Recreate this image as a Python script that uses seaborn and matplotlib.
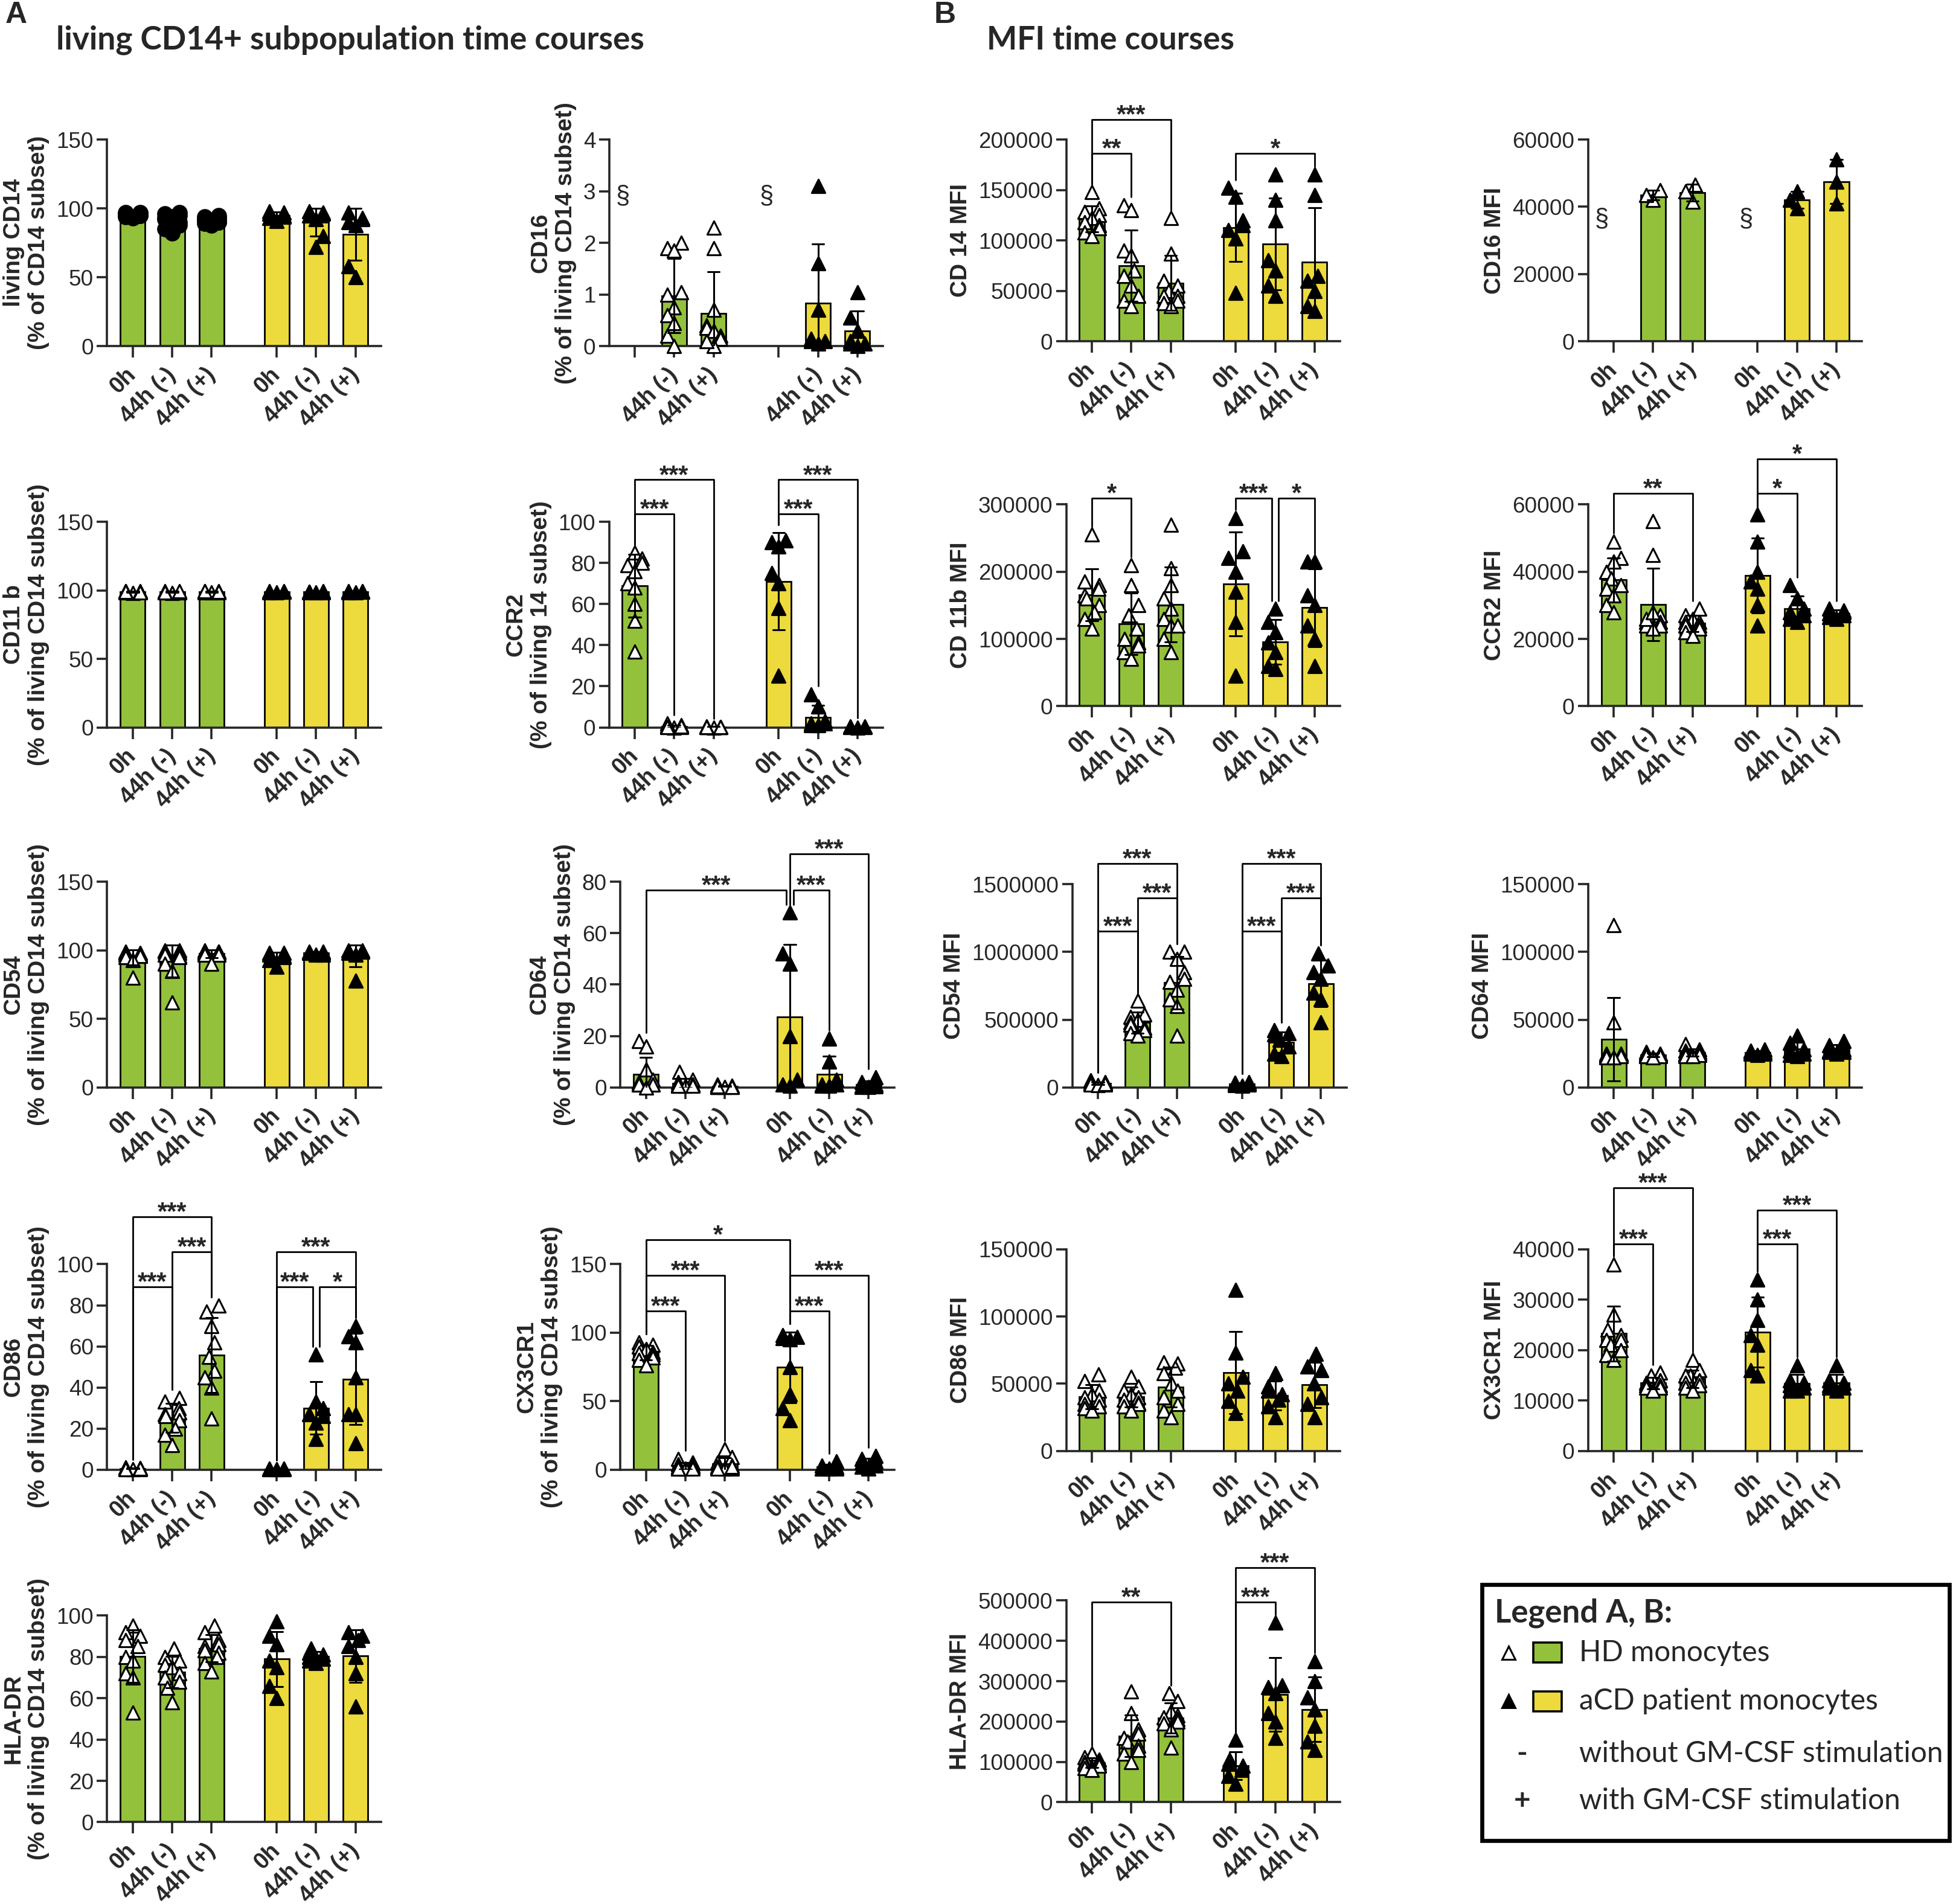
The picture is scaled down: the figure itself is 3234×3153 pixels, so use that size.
import warnings
import matplotlib
matplotlib.use("Agg")
import matplotlib.pyplot as plt
import matplotlib.font_manager as fm
from matplotlib.patches import Rectangle
from matplotlib.lines import Line2D
import numpy as np
import pandas as pd
import seaborn as sns
import seaborn.categorical as sns_cat

warnings.filterwarnings("ignore")

GREEN = "#93C13B"
YELLOW = "#EDDA3C"

time_labels = ["0h", "44h (-)", "44h (+)"]

# ---------------------------------------------------------------
# values, one list per time point:
# [0h, 44h (-), 44h (+)]  -- HD donors (n~10) and aCD patients (n~7)
# ---------------------------------------------------------------

# A: % of living CD14+ subset
live_hd = [[97, 96, 95, 96, 94, 97, 95, 93, 96, 95],
           [97, 96, 95, 94, 93, 92, 90, 88, 85, 82],
           [95, 94, 93, 92, 91, 90, 90, 89, 88, 92]]
live_acd = [[98, 97, 96, 95, 94, 93, 91],
            [98, 97, 96, 95, 92, 80, 72],
            [97, 93, 92, 90, 88, 58, 50]]

cd16_hd = [[],
           [2.0, 1.9, 1.85, 1.0, 1.05, 0.75, 0.6, 0.45, 0.2, 0.0],
           [2.3, 1.9, 0.7, 0.4, 0.35, 0.3, 0.2, 0.15, 0.0, 0.1]]
cd16_acd = [[],
            [3.1, 1.6, 0.7, 0.1, 0.1, 0.05, 0.15],
            [1.05, 0.55, 0.3, 0.1, 0.05, 0.0, 0.05]]

cd11b_hd = [[99, 98.5, 99.5, 98, 99, 98.8, 99.2, 98.6, 99.4, 98.9],
            [98.8, 98.5, 99.2, 98, 99, 98.6, 99.1, 98.3, 99.4, 98.7],
            [99.1, 98.7, 99.5, 98.4, 99, 98.9, 99.3, 98.6, 99.6, 98.8]]
cd11b_acd = [[99, 98.5, 99.5, 98.8, 99.2, 98.7, 99.1],
             [98.9, 98.6, 99.3, 98.7, 99.1, 98.5, 99.0],
             [99.1, 98.7, 99.4, 98.9, 99.2, 98.6, 99.0]]

ccr2_hd = [[85, 82, 80, 79, 76, 70, 68, 60, 52, 37],
           [1, 0.5, 0, 0.3, 0.8, 0.2, 2, 0.1, 0.6, 0.4],
           [0.2, 0.1, 0.3, 0, 0.4, 0.1, 0.2, 0.3, 0.1, 0.2]]
ccr2_acd = [[91, 90, 88, 75, 70, 58, 25],
            [16, 10, 3, 2, 1, 1, 2],
            [0.5, 0.2, 0.1, 0.3, 0, 0.2, 0.4]]

cd54_hd = [[99, 98, 98, 97, 97, 96, 96, 95, 93, 80],
           [100, 100, 99, 98, 97, 96, 95, 90, 85, 62],
           [100, 99, 99, 99, 98, 98, 98, 97, 97, 90]]
cd54_acd = [[98, 98, 97, 96, 95, 93, 88],
            [99, 99, 98, 98, 97, 98, 97],
            [100, 100, 99, 99, 98, 97, 78]]

cd64_hd = [[18, 16, 7, 3, 2, 1, 1, 1, 1, 0],
           [6, 3, 2, 1, 1, 1, 0.5, 0.5, 0.5, 0.5],
           [1, 0.5, 0.3, 0.2, 0.2, 0.1, 0.1, 0.3, 0.2, 0.1]]
cd64_acd = [[68, 52, 48, 20, 3, 1, 0.5],
            [19, 10, 3, 1, 1, 0.5, 0.5],
            [4, 2, 1, 0.5, 0.3, 0.2, 0.1]]

cd86_hd = [[1, 0.5, 0.3, 0.2, 0.8, 0.4, 0.6, 0.2, 0.3, 0.5],
           [35, 33, 30, 28, 27, 26, 24, 20, 17, 12],
           [80, 77, 70, 62, 55, 48, 45, 40, 25]]
cd86_acd = [[0.5, 0.3, 0.2, 0.1, 0.4, 0.2, 0.3],
            [56, 33, 30, 27, 26, 23, 15],
            [70, 65, 62, 45, 27, 27, 13]]

cx3cr1_hd = [[93, 91, 90, 88, 86, 85, 84, 82, 80, 76],
             [8, 5, 4, 3, 2, 2, 1, 1, 1, 1],
             [15, 9, 5, 3, 2, 2, 1, 1, 1, 2]]
cx3cr1_acd = [[98, 97, 96, 95, 75, 55, 45, 36],
              [6, 3, 2, 1, 1, 1, 1],
              [10, 8, 6, 5, 3, 2, 1]]

hladr_hd = [[95, 92, 90, 88, 85, 80, 78, 72, 70, 53],
            [84, 80, 78, 76, 75, 72, 70, 68, 65, 58],
            [95, 92, 88, 86, 85, 83, 82, 80, 77, 73]]
hladr_acd = [[97, 90, 86, 78, 75, 66, 60],
             [84, 82, 81, 80, 79, 78, 77],
             [92, 90, 88, 85, 80, 72, 56]]

# B: MFI, values in thousands
cd14_mfi_hd = [[148, 132, 128, 125, 122, 118, 115, 112, 108, 104],
               [135, 130, 90, 85, 70, 65, 55, 45, 40, 35],
               [122, 87, 60, 55, 50, 45, 45, 40, 38, 35]]
cd14_mfi_acd = [[152, 143, 120, 115, 110, 102, 48],
                [165, 140, 120, 80, 70, 55, 45],
                [165, 145, 65, 60, 50, 35, 30]]

cd16_mfi_hd = [[], [42, 43.5, 45], [41.5, 44.5, 46.5]]
cd16_mfi_acd = [[], [39.5, 42, 44.5], [41, 47.5, 54]]

cd11b_mfi_hd = [[255, 185, 180, 175, 165, 160, 150, 140, 130, 115],
                [210, 180, 150, 135, 115, 100, 95, 90, 80, 70],
                [270, 205, 180, 160, 145, 130, 120, 120, 100, 80]]
cd11b_mfi_acd = [[280, 230, 220, 200, 170, 125, 45],
                 [145, 125, 110, 95, 80, 60, 55],
                 [215, 215, 165, 150, 120, 100, 60]]

ccr2_mfi_hd = [[49, 44, 43, 40, 38, 36, 35, 33, 30, 28],
               [55, 45, 27, 25, 25, 24, 24, 23, 26, 28],
               [29, 27, 26, 25, 25, 24, 24, 23, 22, 21]]
ccr2_mfi_acd = [[57, 49, 40, 37, 35, 30, 24],
                [36, 32, 29, 28, 27, 26, 25],
                [29, 28.5, 28, 27.5, 27, 26.5, 26]]

cd54_mfi_hd = [[50, 40, 35, 30, 30, 25, 20, 20, 15, 25],
               [640, 540, 520, 500, 480, 460, 440, 420, 400, 380],
               [1000, 1000, 950, 850, 800, 780, 720, 650, 600, 380]]
cd54_mfi_acd = [[40, 35, 30, 25, 20, 15, 10],
                [420, 400, 390, 350, 300, 250, 230],
                [990, 900, 850, 800, 700, 650, 480]]

cd64_mfi_hd = [[120, 48, 25, 25, 24, 24, 23, 23, 22, 22],
               [26, 25, 25, 24, 24, 24, 23, 23, 23, 22],
               [32, 28, 27, 26, 25, 25, 24, 24, 23, 23]]
cd64_mfi_acd = [[28, 27, 26, 26, 25, 25, 24],
                [38, 33, 28, 27, 25, 24, 23],
                [34, 31, 28, 27, 26, 26, 25]]

cd86_mfi_hd = [[57, 52, 45, 42, 40, 38, 35, 33, 32, 30],
               [55, 48, 45, 42, 40, 38, 36, 35, 33, 30],
               [66, 65, 62, 58, 50, 45, 40, 35, 30, 25]]
cd86_mfi_acd = [[120, 73, 55, 50, 45, 37, 28],
                [58, 48, 45, 42, 38, 33, 25],
                [72, 63, 60, 50, 40, 35, 25]]

cx3cr1_mfi_hd = [[37, 27, 24, 23, 22, 22, 21, 20, 19, 18],
                 [15.5, 15, 14, 14, 13.5, 13, 13, 12.5, 12.5, 12],
                 [18, 16, 15, 15, 14, 14, 13.5, 13, 12.5, 12]]
cx3cr1_mfi_acd = [[34, 30, 26, 23, 21, 16, 15],
                  [17, 14, 13.5, 13, 12.5, 12, 12],
                  [17, 14, 13.5, 13, 12.5, 12.5, 12]]

hladr_mfi_hd = [[120, 112, 105, 100, 98, 95, 92, 90, 85, 80],
                [275, 220, 180, 170, 160, 150, 140, 130, 120, 100],
                [270, 250, 225, 215, 210, 205, 200, 195, 180, 135]]
hladr_mfi_acd = [[155, 105, 95, 90, 80, 65, 45],
                 [445, 290, 285, 270, 220, 200, 160],
                 [350, 300, 260, 230, 190, 150, 130]]


def thousands(groups):
    return [[v * 1000 for v in g] for g in groups]


panels = {
    "live": dict(hd=live_hd, acd=live_acd, yticks=[0, 50, 100, 150],
                 ylabel="living CD14\n(% of CD14 subset)", hd_marker="o"),
    "cd16": dict(hd=cd16_hd, acd=cd16_acd, yticks=[0, 1, 2, 3, 4],
                 ylabel="CD16\n(% of living CD14 subset)", blank_empty=True),
    "cd11b": dict(hd=cd11b_hd, acd=cd11b_acd, yticks=[0, 50, 100, 150],
                  ylabel="CD11 b\n(% of living CD14 subset)"),
    "ccr2": dict(hd=ccr2_hd, acd=ccr2_acd, yticks=[0, 20, 40, 60, 80, 100],
                 ylabel="CCR2\n(% of living 14 subset)"),
    "cd54": dict(hd=cd54_hd, acd=cd54_acd, yticks=[0, 50, 100, 150],
                 ylabel="CD54\n(% of living CD14 subset)"),
    "cd64": dict(hd=cd64_hd, acd=cd64_acd, yticks=[0, 20, 40, 60, 80],
                 ylabel="CD64\n(% of living CD14 subset)"),
    "cd86": dict(hd=cd86_hd, acd=cd86_acd, yticks=[0, 20, 40, 60, 80, 100],
                 ylabel="CD86\n(% of living CD14 subset)"),
    "cx3cr1": dict(hd=cx3cr1_hd, acd=cx3cr1_acd, yticks=[0, 50, 100, 150],
                   ylabel="CX3CR1\n(% of living CD14 subset)"),
    "hladr": dict(hd=hladr_hd, acd=hladr_acd, yticks=[0, 20, 40, 60, 80, 100],
                  ylabel="HLA-DR\n(% of living CD14 subset)"),
    "cd14_mfi": dict(hd=thousands(cd14_mfi_hd), acd=thousands(cd14_mfi_acd),
                     yticks=[0, 50000, 100000, 150000, 200000], ylabel="CD 14 MFI"),
    "cd16_mfi": dict(hd=thousands(cd16_mfi_hd), acd=thousands(cd16_mfi_acd),
                     yticks=[0, 20000, 40000, 60000], ylabel="CD16 MFI"),
    "cd11b_mfi": dict(hd=thousands(cd11b_mfi_hd), acd=thousands(cd11b_mfi_acd),
                      yticks=[0, 100000, 200000, 300000], ylabel="CD 11b MFI"),
    "ccr2_mfi": dict(hd=thousands(ccr2_mfi_hd), acd=thousands(ccr2_mfi_acd),
                     yticks=[0, 20000, 40000, 60000], ylabel="CCR2 MFI"),
    "cd54_mfi": dict(hd=thousands(cd54_mfi_hd), acd=thousands(cd54_mfi_acd),
                     yticks=[0, 500000, 1000000, 1500000], ylabel="CD54 MFI"),
    "cd64_mfi": dict(hd=thousands(cd64_mfi_hd), acd=thousands(cd64_mfi_acd),
                     yticks=[0, 50000, 100000, 150000], ylabel="CD64 MFI"),
    "cd86_mfi": dict(hd=thousands(cd86_mfi_hd), acd=thousands(cd86_mfi_acd),
                     yticks=[0, 50000, 100000, 150000], ylabel="CD86 MFI"),
    "cx3cr1_mfi": dict(hd=thousands(cx3cr1_mfi_hd), acd=thousands(cx3cr1_mfi_acd),
                       yticks=[0, 10000, 20000, 30000, 40000], ylabel="CX3CR1 MFI"),
    "hladr_mfi": dict(hd=thousands(hladr_mfi_hd), acd=thousands(hladr_mfi_acd),
                      yticks=[0, 100000, 200000, 300000, 400000, 500000], ylabel="HLA-DR MFI"),
}

# significance brackets: (group a, group b, bracket level, label); groups 0-2 HD, 3-5 aCD
brackets = {
    "ccr2": [(0, 1, 104, "***"), (0, 2, 120.5, "***"), (3, 4, 104, "***"), (3, 5, 120.5, "***")],
    "cd64": [(0, 3, 76.7, "***"), (3, 4, 76.7, "***"), (3, 5, 90.8, "***")],
    "cd86": [(0, 1, 89, "***"), (1, 2, 106, "***"), (0, 2, 123, "***"),
             (3, 4, 89, "***"), (4, 5, 89, "*"), (3, 5, 106, "***")],
    "cx3cr1": [(0, 3, 168, "*"), (0, 1, 116, "***"), (0, 2, 142, "***"),
               (3, 4, 116, "***"), (3, 5, 142, "***")],
    "cd14_mfi": [(0, 1, 186000, "**"), (0, 2, 220000, "***"), (3, 5, 186000, "*")],
    "cd11b_mfi": [(0, 1, 309000, "*"), (3, 4, 309000, "***"), (4, 5, 309000, "*")],
    "ccr2_mfi": [(0, 2, 63300, "**"), (3, 4, 63300, "*"), (3, 5, 73500, "*")],
    "cd54_mfi": [(0, 1, 1155000, "***"), (1, 2, 1400000, "***"), (0, 2, 1654000, "***"),
                 (3, 4, 1155000, "***"), (4, 5, 1400000, "***"), (3, 5, 1654000, "***")],
    "cx3cr1_mfi": [(0, 1, 41000, "***"), (0, 2, 52200, "***"), (3, 4, 41000, "***"), (3, 5, 47700, "***")],
    "hladr_mfi": [(0, 2, 496000, "**"), (3, 4, 496000, "***"), (3, 5, 581000, "***")],
}

# "§" marks (no 0h value) and their height
section_marks = {"cd16": 2.9, "cd16_mfi": 36300}

# ---------------------------------------------------------------
# layout (reference pixel grid scaled to 1568 px wide)
# key: (x of y-axis, y of zero line, y of top tick)
# ---------------------------------------------------------------
W, H = 1568.0, 1528.7
AX_W = 220
layout = {
    "live": (86, 278, 112), "cd16": (489, 278, 112),
    "cd14_mfi": (856, 274, 112), "cd16_mfi": (1275, 274, 112),
    "cd11b": (86, 584, 419), "ccr2": (489, 584, 419),
    "cd11b_mfi": (856, 567, 405), "ccr2_mfi": (1275, 567, 405),
    "cd54": (86, 873, 708), "cd64": (498, 873, 708),
    "cd54_mfi": (861, 873, 710), "cd64_mfi": (1275, 873, 710),
    "cd86": (86, 1180, 1015), "cx3cr1": (498, 1180, 1015),
    "cd86_mfi": (856, 1165, 1003), "cx3cr1_mfi": (1275, 1165, 1003),
    "hladr": (86, 1463, 1297), "hladr_mfi": (856, 1447, 1285),
}

GROUP_GAP = 3.65
positions = [t + c * GROUP_GAP for c in range(2) for t in range(3)]


# GraphPad-style scatter: keep the swarm inside the bar and let points overlap
class NarrowBeeswarm(sns_cat.Beeswarm):
    def __init__(self, orient="x", width=0.8, warn_thresh=0.05):
        super().__init__(orient=orient, width=width * 0.45, warn_thresh=1.0)


sns_cat.Beeswarm = NarrowBeeswarm

sns.set_style("ticks")
installed = {f.name for f in fm.fontManager.ttflist}
BASE = "Liberation Sans" if "Liberation Sans" in installed else "DejaVu Sans"
HEAD = "Lato" if "Lato" in installed else BASE
plt.rcParams["font.family"] = [BASE, "DejaVu Sans"]
plt.rcParams["axes.linewidth"] = 1.3


def long_frame(hd, acd):
    rows = []
    for c, (name, groups) in enumerate((("HD", hd), ("aCD", acd))):
        for t, vals in enumerate(groups):
            for v in vals:
                rows.append({"cohort": name, "group": c * 3 + t,
                             "pos": t + c * GROUP_GAP, "value": v})
    return pd.DataFrame(rows)


def draw_panel(ax, key):
    p = panels[key]
    df = long_frame(p["hd"], p["acd"])
    ymax = p["yticks"][-1]

    for name, color in (("HD", GREEN), ("aCD", YELLOW)):
        sub = df[df.cohort == name]
        sns.barplot(data=sub, x="pos", y="value", native_scale=True, color=color,
                    saturation=1, width=0.63, errorbar="sd", capsize=0.3,
                    err_kws={"color": "black", "linewidth": 1.1, "zorder": 4},
                    edgecolor="black", linewidth=1.0, ax=ax)

    hd_marker = p.get("hd_marker", "^")
    styles = {
        "HD": dict(marker=hd_marker, color="black" if hd_marker == "o" else "white",
                   size=8.5 if hd_marker == "o" else 8),
        "aCD": dict(marker="^", color="black", size=8),
    }
    for name in ("HD", "aCD"):
        sub = df[df.cohort == name]
        st = styles[name]
        sns.swarmplot(data=sub, x="pos", y="value", native_scale=True,
                      marker=st["marker"], color=st["color"], edgecolor="black",
                      linewidth=1.1, size=st["size"], ax=ax, zorder=3, clip_on=False)

    ax.set_xlim(-0.65, 6.3)
    ax.set_ylim(0, ymax)
    ax.set_yticks(p["yticks"])
    ax.set_yticklabels([str(int(t)) for t in p["yticks"]], fontsize=13.3)
    labels = time_labels * 2
    if p.get("blank_empty"):
        filled = set(df.group)
        labels = [lab if g in filled else "" for g, lab in enumerate(labels)]
    ax.set_xticks(positions)
    ax.set_xticklabels(labels, rotation=45, ha="right", va="center",
                       rotation_mode="anchor", fontsize=13.5, fontweight="bold")
    ax.tick_params(axis="y", length=6, width=1.3, pad=2)
    ax.tick_params(axis="x", length=7, width=1.3, pad=8)
    ax.set_xlabel("")
    ax.set_ylabel(p["ylabel"], fontsize=14, fontweight="bold", labelpad=4)
    sns.despine(ax=ax)

    # top of data per group, used for the bracket legs
    tops = {}
    for g in range(6):
        vals = df.loc[df.group == g, "value"].to_numpy()
        if len(vals) == 0:
            tops[g] = 0.0
        else:
            sd = vals.std(ddof=1) if len(vals) > 1 else 0.0
            tops[g] = max(vals.max(), vals.mean() + sd)

    blist = brackets.get(key, [])
    for k, (i, j, h, lab) in enumerate(blist):
        xi, xj = positions[i], positions[j]
        for m, (a, b, hh, _) in enumerate(blist):
            if m == k or abs(hh - h) > 1e-9:
                continue
            if b == i or a == i:
                xi += 0.09
            if a == j or b == j:
                xj -= 0.09
        bi = min(tops[i] + 0.04 * ymax, h)
        bj = min(tops[j] + 0.04 * ymax, h)
        ax.plot([xi, xi, xj, xj], [bi, h, h, bj], color="black", lw=1.0,
                clip_on=False, zorder=5)
        ax.annotate(lab, xy=((xi + xj) / 2, h), xytext=(0, -1.5),
                    textcoords="offset points", ha="center", va="baseline",
                    fontsize=15, fontweight="bold", annotation_clip=False)

    if key in section_marks:
        for g in (0, 3):
            ax.text(positions[g] - 0.3, section_marks[key], "§", fontsize=15,
                    ha="center", va="center")


fig = plt.figure(figsize=(16.17, 15.765), dpi=200)

for key, (x0, y0, ytop) in layout.items():
    ax = fig.add_axes([x0 / W, 1 - y0 / H, AX_W / W, (y0 - ytop) / H])
    draw_panel(ax, key)


def fxy(x, y):
    return x / W, 1 - y / H


# headings
fig.text(*fxy(4, 12), "A", fontsize=18, fontweight="bold", va="center", ha="left")
fig.text(*fxy(45, 32), "living CD14+ subpopulation time courses", family=HEAD,
         fontsize=19.2, fontweight="bold", va="center", ha="left")
fig.text(*fxy(750, 12), "B", fontsize=18, fontweight="bold", va="center", ha="left")
fig.text(*fxy(792, 32), "MFI time courses", family=HEAD,
         fontsize=19.2, fontweight="bold", va="center", ha="left")

# legend box
fig.patches.append(Rectangle(fxy(1190, 1478), 375 / W, 206 / H, transform=fig.transFigure,
                             fill=False, edgecolor="black", linewidth=2.4))
fig.text(*fxy(1200, 1295), "Legend A, B:", family=HEAD, fontsize=19,
         fontweight="bold", va="center", ha="left")
legend_rows = [("white", GREEN, "HD monocytes", 1327),
               ("black", YELLOW, "aCD patient monocytes", 1366)]
for face, fill, text, y in legend_rows:
    fig.add_artist(Line2D([1211 / W], [1 - y / H], transform=fig.transFigure, marker="^",
                          markersize=8, markerfacecolor=face, markeredgecolor="black",
                          markeredgewidth=1.1, linestyle="none"))
    fig.patches.append(Rectangle(fxy(1231, y + 8), 23 / W, 16 / H, transform=fig.transFigure,
                                 facecolor=fill, edgecolor="black", linewidth=1.3))
    fig.text(*fxy(1268, y), text, family=HEAD, fontsize=17.2, va="center", ha="left")
for sym, text, y in (("-", "without GM-CSF stimulation", 1408),
                     ("+", "with GM-CSF stimulation", 1446)):
    fig.text(*fxy(1222, y), sym, family=HEAD, fontsize=17.2, fontweight="bold",
             va="center", ha="center")
    fig.text(*fxy(1268, y), text, family=HEAD, fontsize=17.2, va="center", ha="left")

fig.savefig("out.png", dpi=200)
